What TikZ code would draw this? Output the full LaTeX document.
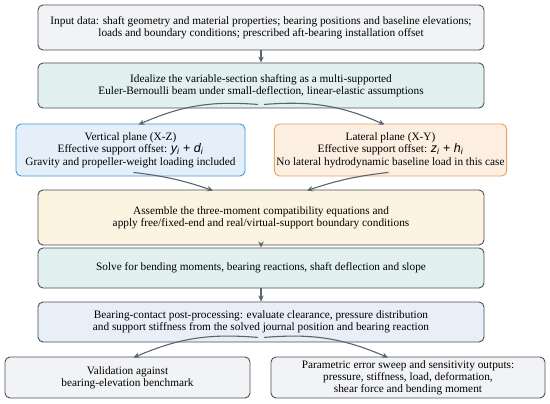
\documentclass[tikz,border=0pt]{standalone}
\usepackage{fontspec}
\setmainfont{Liberation Serif}
\newfontfamily\varsans{Liberation Sans}
\usetikzlibrary{arrows.meta,calc}
\definecolor{edgegray}{HTML}{4A4F57}
\definecolor{fillgray}{HTML}{F2F3F5}
\definecolor{fillteal}{HTML}{E2F1EF}
\definecolor{fillblue}{HTML}{E5EFF9}
\definecolor{edgeblue}{HTML}{3D9AD8}
\definecolor{fillorange}{HTML}{FCEFE2}
\definecolor{edgeorange}{HTML}{E9A062}
\definecolor{fillyellow}{HTML}{FCF4E0}
\definecolor{fillpale}{HTML}{E8EFF8}
\definecolor{arrowc}{HTML}{5A6570}
\tikzset{
  box/.style={draw=edgegray, line width=0.9pt, rounded corners=5pt, align=center,
    font=\fontsize{11.3}{12.2}\selectfont, inner sep=2pt},
  plane/.style={box, font=\fontsize{11.3}{12.6}\selectfont},
  arr/.style={draw=arrowc, line width=1.1pt, -{Stealth[length=6pt,width=5.5pt]}},
}
\newcommand{\vsym}[2]{{\varsans\fontsize{12.5}{12.6}\selectfont\itshape #1\textsubscript{#2}}}
\newcommand{\vplus}{{\varsans\fontsize{12.5}{12.6}\selectfont\ +\ }}
\begin{document}
\begin{tikzpicture}[x=1pt,y=-1pt]
\useasboundingbox (0,0) rectangle (550,404);
\node[box, fill=fillgray, minimum width=446pt, minimum height=45pt] (b1) at (261,27.5)
  {Input data: shaft geometry and material properties; bearing positions and baseline elevations;\\
   loads and boundary conditions; prescribed aft-bearing installation offset};
\node[box, fill=fillteal, minimum width=446pt, minimum height=45pt] (b2) at (261,85.5)
  {Idealize the variable-section shafting as a multi-supported\\
   Euler-Bernoulli beam under small-deflection, linear-elastic assumptions};
\node[plane, draw=edgeblue, fill=fillblue, minimum width=229pt, minimum height=52pt] (b3) at (130.5,150)
  {Vertical plane (X-Z)\\
   Effective support offset: \vsym{y}{i}\vplus\vsym{d}{i}\\
   Gravity and propeller-weight loading included};
\node[plane, draw=edgeorange, fill=fillorange, minimum width=229pt, minimum height=52pt] (b4) at (390.5,150)
  {Lateral plane (X-Y)\\
   Effective support offset: \vsym{z}{i}\vplus\vsym{h}{i}\\
   No lateral hydrodynamic baseline load in this case};
\node[box, fill=fillyellow, minimum width=446pt, minimum height=55pt] (b5) at (261,217.5)
  {Assemble the three-moment compatibility equations and\\
   apply free/fixed-end and real/virtual-support boundary conditions};
\node[box, fill=fillteal, minimum width=446pt, minimum height=40pt] (b6) at (261,268)
  {Solve for bending moments, bearing reactions, shaft deflection and slope};
\node[box, fill=fillpale, minimum width=446pt, minimum height=40pt] (b7) at (261,322)
  {Bearing-contact post-processing: evaluate clearance, pressure distribution\\
   and support stiffness from the solved journal position and bearing reaction};
\node[box, fill=fillgray, minimum width=245pt, minimum height=41pt] (b8) at (127.5,377.5)
  {Validation against\\ bearing-elevation benchmark};
\node[box, fill=fillgray, minimum width=274pt, minimum height=41pt, font=\fontsize{11.3}{11.8}\selectfont] (b9) at (408,377.5)
  {Parametric error sweep and sensitivity outputs:\\
   pressure, stiffness, load, deformation,\\
   shear force and bending moment};
% connectors
\coordinate (s2l) at ($(b2.south)+(-3,-4)$);
\coordinate (s2r) at ($(b2.south)+(3,-4)$);
\coordinate (e3) at ($(b3.north)+(8,1)$);
\coordinate (e4) at ($(b4.north)+(-6,1)$);
\coordinate (s3) at ($(b3.south)+(3,-4)$);
\coordinate (s4) at ($(b4.south)+(-2,-4)$);
\coordinate (e5l) at ($(b5.north)+(-48,1)$);
\coordinate (e5r) at ($(b5.north)+(46,1)$);
\coordinate (s7l) at ($(b7.south)+(-3,-5)$);
\coordinate (s7r) at ($(b7.south)+(3,-5)$);
\coordinate (e8) at ($(b8.north)+(6,1)$);
\coordinate (e9) at ($(b9.north)+(-20,1)$);
\draw[arr] (b1.south) -- (b2.north);
\draw[arr] (s2l) to[bend right=14] (e3);
\draw[arr] (s2r) to[bend left=14] (e4);
\draw[arr] (s3) to[bend left=6] (e5l);
\draw[arr] (s4) to[bend right=6] (e5r);
\draw[arr] (b5.south) -- (b6.north);
\draw[arr] (b6.south) -- (b7.north);
\draw[arr] (s7l) to[bend right=14] (e8);
\draw[arr] (s7r) to[bend left=14] (e9);
\end{tikzpicture}
\end{document}
